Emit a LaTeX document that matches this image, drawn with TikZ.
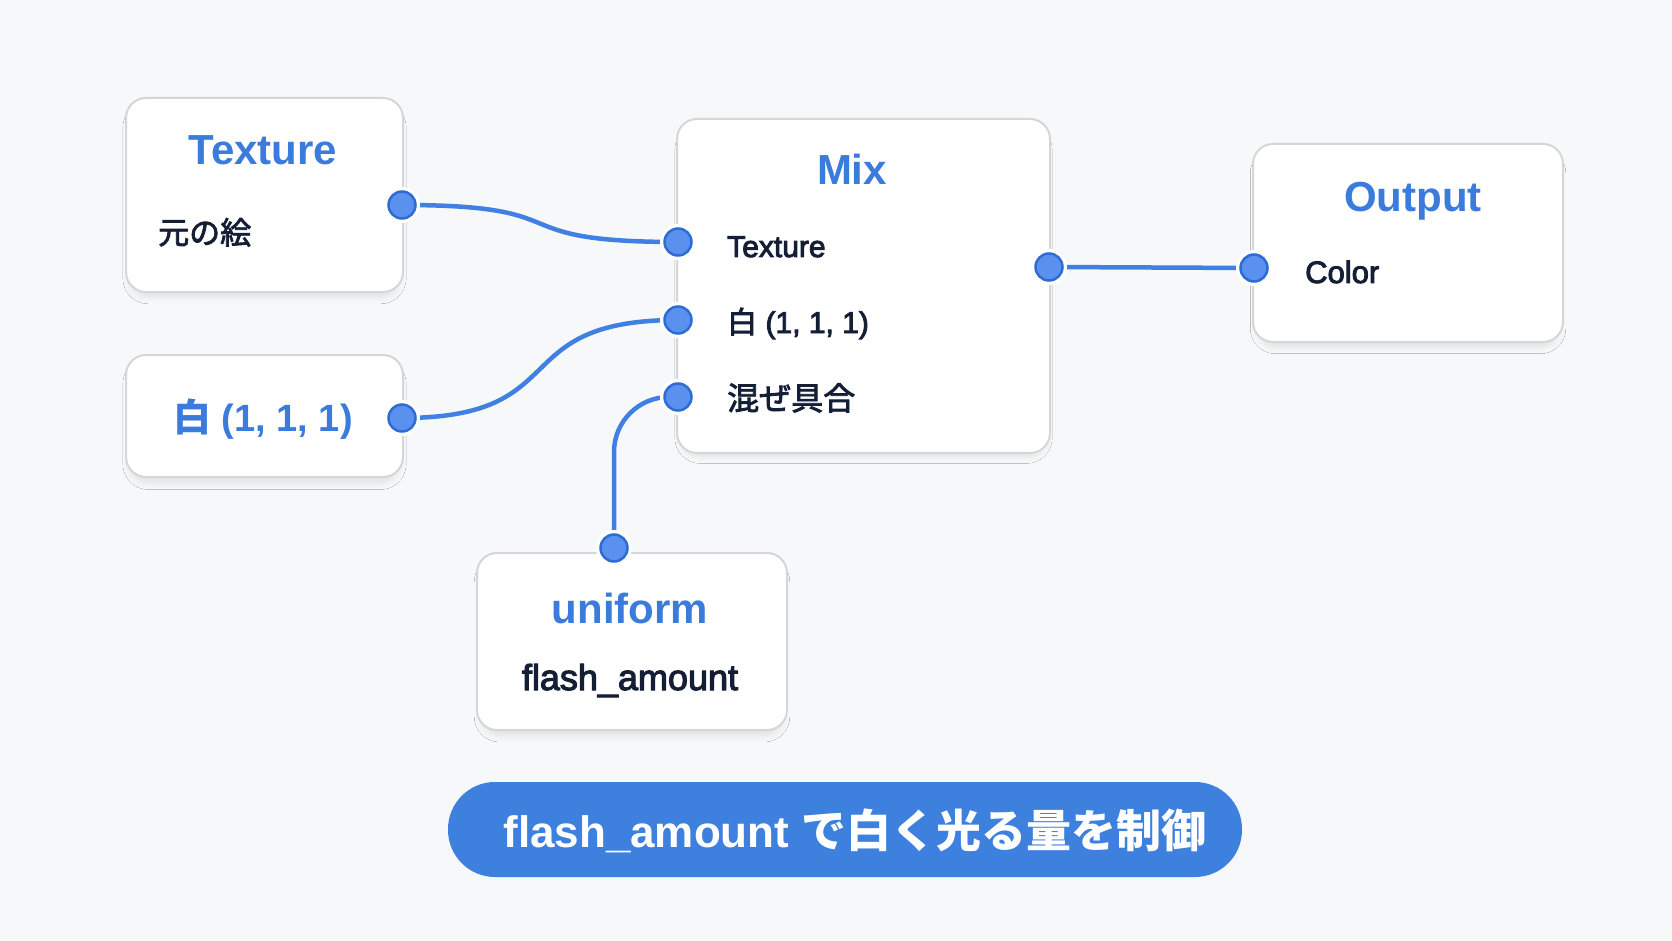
\documentclass[tikz,border=0pt]{standalone}
\usepackage{fontspec}
\setmainfont{Liberation Sans}
\newfontfamily\jp{Noto Sans CJK JP}
\newfontfamily\med[FakeBold=3]{Liberation Sans}
\newfontfamily\jpmed[FakeBold=2.5]{Noto Sans CJK JP}
\usetikzlibrary{shadows.blur}
\definecolor{bgcol}{HTML}{F7F8FA}
\definecolor{titleblue}{HTML}{3A7BDB}
\definecolor{darktext}{HTML}{141F36}
\definecolor{portfill}{HTML}{5A90EE}
\definecolor{portline}{HTML}{2E6CD5}
\definecolor{linecol}{HTML}{3F80E2}
\definecolor{boxline}{HTML}{D4D6D9}
\definecolor{bannercol}{HTML}{3D80DE}
\pgfdeclarelayer{back}
\pgfdeclarelayer{top}
\pgfsetlayers{back,main,top}
\tikzset{
  box/.style={draw=boxline, line width=2pt, fill=white, rounded corners=20pt, inner sep=0pt,
    blur shadow={shadow xshift=0pt, shadow yshift=-8pt, shadow blur radius=6pt, shadow opacity=8, shadow scale=0.98}},
  port/.style={circle, fill=portfill, draw=portline, line width=2.5pt, minimum size=27pt, inner sep=0pt,
    preaction={draw=white, line width=9pt}},
  conn/.style={draw=linecol, line width=4.5pt},
  title/.style={font=\bfseries\fontsize{42}{42}\selectfont, text=titleblue, inner sep=0pt, anchor=base},
  body/.style={font=\med\fontsize{30}{30}\selectfont, text=darktext, inner sep=0pt, anchor=base west},
}
\begin{document}
\begin{tikzpicture}[x=1pt,y=-1pt]
\begin{pgfonlayer}{back}
\fill[bgcol] (0,0) rectangle (1672,941);
\node[box, minimum width=277pt, minimum height=194pt] (tex) at (264.5,195) {};
\node[box, minimum width=277pt, minimum height=122pt] (white) at (264.5,416) {};
\node[box, minimum width=373pt, minimum height=334pt] (mix) at (863.5,286) {};
\node[box, minimum width=310pt, minimum height=198pt] (out) at (1408,243) {};
\node[box, minimum width=310pt, minimum height=177pt] (uni) at (632,641.5) {};
\node[fill=bannercol, rounded corners=47pt, minimum width=794pt, minimum height=95pt, inner sep=0pt] (banner) at (845,829.5) {};
\end{pgfonlayer}
\useasboundingbox (0,0) rectangle (1672,941);
\begin{pgfonlayer}{top}
\node[port] (pTex) at (402,205) {};
\node[port] (pWhite) at (402,418) {};
\node[port] (pMixT) at (678,242) {};
\node[port] (pMixW) at (678,320) {};
\node[port] (pMixM) at (678,397) {};
\node[port] (pMixOut) at (1049,267) {};
\node[port] (pOut) at (1254,268) {};
\node[port] (pUni) at (614,548) {};
% texts
\node[title] (tTex) at (263,165) {Texture};
\node[body, font=\jpmed\fontsize{31}{31}\selectfont] (tTexSub) at (158,244) {元の絵};
\node[title, font=\bfseries\fontsize{38}{38}\selectfont] (tWhite) at (263,431) {{\jp\bfseries 白} (1, 1, 1)};
\node[title] (tMix) at (852,185) {Mix};
\node[body] (tMixT) at (727,257) {Texture};
\node[body] (tMixW) at (727,333) {{\jpmed 白} (1, 1, 1)};
\node[body, font=\jpmed\fontsize{32}{32}\selectfont] (tMixM) at (727,410) {混ぜ具合};
\node[title] (tOut) at (1413,212) {Output};
\node[body, font=\med\fontsize{31}{31}\selectfont] (tColor) at (1305,283) {Color};
\node[title] (tUni) at (630,623) {uniform};
\node[body, anchor=base, font=\med\fontsize{36}{36}\selectfont] (tFlash) at (630,690) {flash\_amount};
\node[inner sep=0pt, anchor=base, text=white, font=\bfseries\fontsize{44}{44}\selectfont] (tBanner) at (855,847) {flash\_amount {\jp\bfseries\fontsize{45}{45}\selectfont で白く光る量を制御}};
\end{pgfonlayer}
\draw[conn] (pTex.center) .. controls +(185,0) and +(-185,0) .. (pMixT.center);
\draw[conn] (pWhite.center) .. controls +(175,0) and +(-175,0) .. (pMixW.center);
\draw[conn, rounded corners=55pt] (pUni.center) |- (pMixM.center);
\draw[conn] (pMixOut.center) -- (pOut.center);
\end{tikzpicture}
\end{document}
